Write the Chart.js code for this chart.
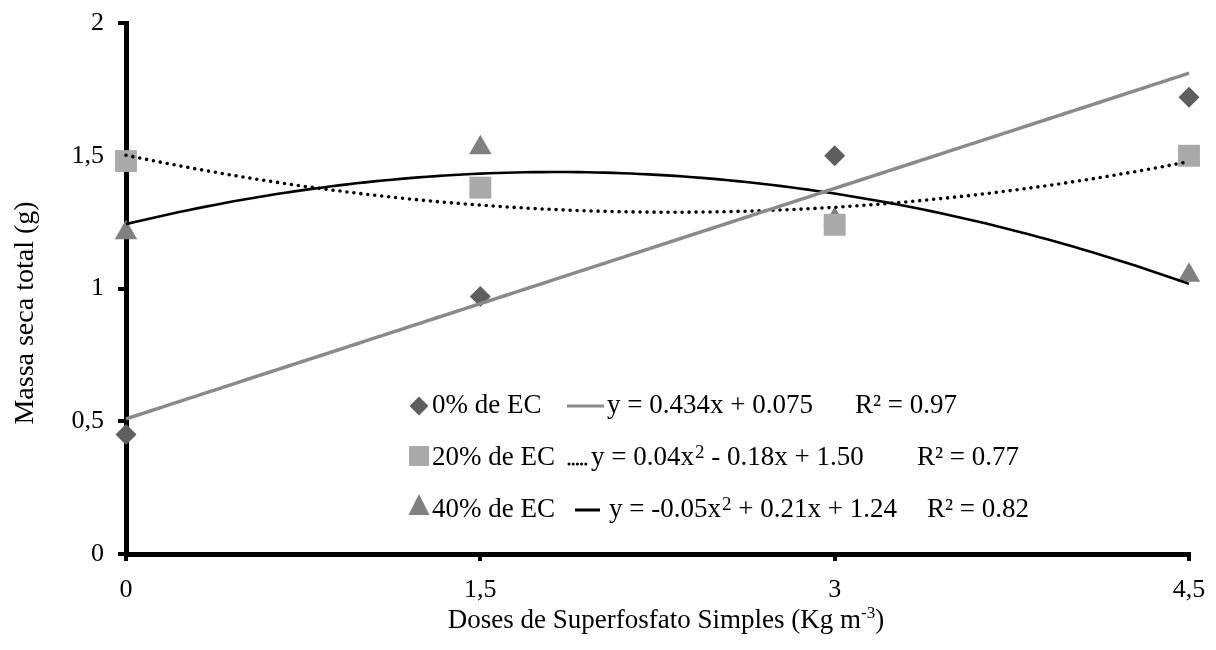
<!DOCTYPE html>
<html>
<head>
<meta charset="utf-8">
<script src="https://cdn.jsdelivr.net/npm/chart.js@4/dist/chart.umd.min.js"></script>
<style>
html,body{margin:0;padding:0;background:#fff;}
canvas{display:block;}
</style>
</head>
<body>
<canvas id="c" width="1216" height="650"></canvas>
<script>
// ---- data ----
const doses = [0, 1.5, 3, 4.5];
const ec0 = [0.45, 0.97, 1.50, 1.72];
const ec20 = [1.48, 1.38, 1.24, 1.50];
const ec40 = [1.21, 1.53, 1.26, 1.05];
const seriesNames = ['0% de EC', '20% de EC', '40% de EC'];
const trendDegrees = [1, 2, 2];
const equations = ['y = 0.434x + 0.075', 'y = 0.04x^2 - 0.18x + 1.50', 'y = -0.05x^2 + 0.21x + 1.24'];
const r2Labels = ['R\u00B2 = 0.97', 'R\u00B2 = 0.77', 'R\u00B2 = 0.82'];
const xTicks = [0, 1.5, 3, 4.5];
const yTicks = [0, 0.5, 1, 1.5, 2];
const xTitle = 'Doses de Superfosfato Simples (Kg m';
const xTitleSup = '-3';
const xTitleEnd = ')';
const yTitle = 'Massa seca total (g)';

// ---- least-squares polynomial trendline (as in the spreadsheet) ----
function polyFit(xs, ys, deg) {
  const n = deg + 1;
  const A = [], b = [];
  for (let i = 0; i < n; i++) {
    A.push([]);
    for (let j = 0; j < n; j++) A[i].push(xs.reduce((s, x) => s + Math.pow(x, i + j), 0));
    b.push(xs.reduce((s, x, k) => s + ys[k] * Math.pow(x, i), 0));
  }
  for (let i = 0; i < n; i++) {
    let p = i;
    for (let r = i + 1; r < n; r++) if (Math.abs(A[r][i]) > Math.abs(A[p][i])) p = r;
    [A[i], A[p]] = [A[p], A[i]]; [b[i], b[p]] = [b[p], b[i]];
    for (let r = i + 1; r < n; r++) {
      const f = A[r][i] / A[i][i];
      for (let c = i; c < n; c++) A[r][c] -= f * A[i][c];
      b[r] -= f * b[i];
    }
  }
  const coef = new Array(n).fill(0);
  for (let i = n - 1; i >= 0; i--) {
    let s = b[i];
    for (let c = i + 1; c < n; c++) s -= A[i][c] * coef[c];
    coef[i] = s / A[i][i];
  }
  return coef;
}
function trendPoints(ys, deg) {
  const coef = polyFit(doses, ys, deg);
  const pts = [];
  const x0 = doses[0], x1 = doses[doses.length - 1];
  const steps = 120;
  for (let k = 0; k <= steps; k++) {
    const x = x0 + (x1 - x0) * k / steps;
    pts.push({x: x, y: coef.reduce((s, c, i) => s + c * Math.pow(x, i), 0)});
  }
  return pts;
}
const toPts = ys => doses.map((x, i) => ({x: x, y: ys[i]}));

const FONT = "'Liberation Serif', 'Times New Roman', serif";
const colors = {diamond: '#5e5e5e', square: '#a9a9a9', triangle: '#808080', lin: '#8a8a8a'};

// ---- custom drawing: in-plot legend and axis titles ----
function drawMarker(ctx, kind, x, y) {
  ctx.save();
  if (kind === 0) {
    ctx.fillStyle = colors.diamond;
    ctx.beginPath(); ctx.moveTo(x - 9.5, y); ctx.lineTo(x, y - 9.5); ctx.lineTo(x + 9.5, y); ctx.lineTo(x, y + 9.5); ctx.closePath(); ctx.fill();
  } else if (kind === 1) {
    ctx.fillStyle = colors.square;
    ctx.fillRect(x - 10, y - 10, 20, 20);
  } else {
    ctx.fillStyle = colors.triangle;
    ctx.beginPath(); ctx.moveTo(x, y - 11); ctx.lineTo(x + 10.5, y + 10); ctx.lineTo(x - 10.5, y + 10); ctx.closePath(); ctx.fill();
  }
  ctx.restore();
}
function drawSupText(ctx, text, x, y, size) {
  const parts = text.split('^');
  let cx = x;
  parts.forEach((p, i) => {
    let main = p;
    if (i > 0) {
      const sup = p.charAt(0);
      main = p.slice(1);
      ctx.font = Math.round(size * 0.72) + 'px ' + FONT;
      ctx.fillText(sup, cx + 1, y - size * 0.27);
      cx += ctx.measureText(sup).width + 1;
    }
    ctx.font = size + 'px ' + FONT;
    ctx.fillText(main, cx, y);
    cx += ctx.measureText(main).width;
  });
}
const overlay = {
  id: 'overlay',
  afterDraw(chart) {
    const ctx = chart.ctx;
    ctx.save();
    ctx.fillStyle = '#000';
    ctx.textBaseline = 'alphabetic';
    ctx.textAlign = 'left';
    const rows = [
      {base: 413, mk: 406, eqX: 607, r2X: 855, line: [567, 604], ly: 406},
      {base: 465, mk: 456, eqX: 591, r2X: 917, line: [569, 589], ly: 464},
      {base: 517, mk: 505, eqX: 609, r2X: 927, line: [575, 600], ly: 510}
    ];
    rows.forEach((r, i) => {
      drawMarker(ctx, i, 419, r.mk);
      ctx.fillStyle = '#000';
      ctx.font = '27px ' + FONT;
      ctx.fillText(seriesNames[i], 432, r.base);
      // line sample
      ctx.save();
      ctx.beginPath();
      if (i === 0) { ctx.strokeStyle = colors.lin; ctx.lineWidth = 3; }
      else if (i === 1) { ctx.strokeStyle = '#000'; ctx.lineWidth = 3; ctx.setLineDash([0, 4.2]); ctx.lineCap = 'round'; }
      else { ctx.strokeStyle = '#000'; ctx.lineWidth = 3; }
      ctx.moveTo(r.line[0], r.ly); ctx.lineTo(r.line[1], r.ly); ctx.stroke();
      ctx.restore();
      drawSupText(ctx, equations[i], r.eqX, r.base, 27);
      ctx.font = '27px ' + FONT;
      ctx.fillText(r2Labels[i], r.r2X, r.base);
    });
    // x axis title with superscript
    ctx.font = '27px ' + FONT;
    const w1 = ctx.measureText(xTitle).width;
    ctx.font = '17px ' + FONT;
    const w2 = ctx.measureText(xTitleSup).width;
    ctx.font = '27px ' + FONT;
    const w3 = ctx.measureText(xTitleEnd).width;
    let sx = 666 - (w1 + w2 + w3) / 2;
    ctx.fillText(xTitle, sx, 628); sx += w1;
    ctx.font = '17px ' + FONT; ctx.fillText(xTitleSup, sx, 618); sx += w2;
    ctx.font = '27px ' + FONT; ctx.fillText(xTitleEnd, sx, 628);
    // y axis title
    ctx.save();
    ctx.translate(33, 313);
    ctx.rotate(-Math.PI / 2);
    ctx.textAlign = 'center';
    ctx.font = '28px ' + FONT;
    ctx.fillText(yTitle, 0, 0);
    ctx.restore();
    ctx.restore();
  }
};

const fmt = v => String(v).replace('.', ',');

new Chart(document.getElementById('c'), {
  type: 'scatter',
  data: {
    datasets: [
      {label: seriesNames[0], data: toPts(ec0), pointStyle: 'rectRot', pointRadius: 10.5, pointBackgroundColor: colors.diamond, pointBorderWidth: 0, showLine: false, order: 2},
      {label: seriesNames[1], data: toPts(ec20), pointStyle: 'rect', pointRadius: 15.5, pointBackgroundColor: colors.square, pointBorderWidth: 0, showLine: false, order: 2},
      {label: seriesNames[2], data: toPts(ec40), pointStyle: 'triangle', pointRadius: 13, pointBackgroundColor: colors.triangle, pointBorderWidth: 0, showLine: false, order: 2},
      {label: 't0', data: trendPoints(ec0, trendDegrees[0]), showLine: true, pointRadius: 0, borderColor: colors.lin, borderWidth: 3.5, order: 0},
      {label: 't20', data: trendPoints(ec20, trendDegrees[1]), showLine: true, pointRadius: 0, borderColor: '#000', borderWidth: 3.6, borderDash: [0, 7], borderCapStyle: 'round', order: 0},
      {label: 't40', data: trendPoints(ec40, trendDegrees[2]), showLine: true, pointRadius: 0, borderColor: '#000', borderWidth: 2.6, order: 0}
    ]
  },
  options: {
    responsive: false,
    animation: false,
    devicePixelRatio: 1,
    layout: {padding: {top: 23, right: 27, left: 0, bottom: 0}},
    elements: {line: {tension: 0}},
    datasets: {scatter: {clip: false}},
    plugins: {legend: {display: false}, tooltip: {enabled: false}},
    scales: {
      x: {
        type: 'linear', min: 0, max: 4.5,
        afterBuildTicks: s => { s.ticks = xTicks.map(v => ({value: v})); },
        afterFit: s => { s.height = 96; s.paddingLeft = 0; s.paddingRight = 0; },
        grid: {display: true, drawOnChartArea: false, drawTicks: true, tickLength: 7, lineWidth: 4, color: '#000'},
        border: {display: true, color: '#000', width: 5},
        ticks: {color: '#000', font: {family: FONT, size: 26}, padding: 14, maxRotation: 0, callback: v => fmt(v)}
      },
      y: {
        type: 'linear', min: 0, max: 2,
        afterBuildTicks: s => { s.ticks = yTicks.map(v => ({value: v})); },
        afterFit: s => { s.width = 126; s.paddingTop = 0; s.paddingBottom = 0; },
        grid: {display: true, drawOnChartArea: false, drawTicks: true, tickLength: 8, lineWidth: 4, color: '#000'},
        border: {display: true, color: '#000', width: 5},
        ticks: {color: '#000', font: {family: FONT, size: 26}, padding: 14, callback: v => fmt(v)}
      }
    }
  },
  plugins: [overlay]
});
</script>
</body>
</html>
